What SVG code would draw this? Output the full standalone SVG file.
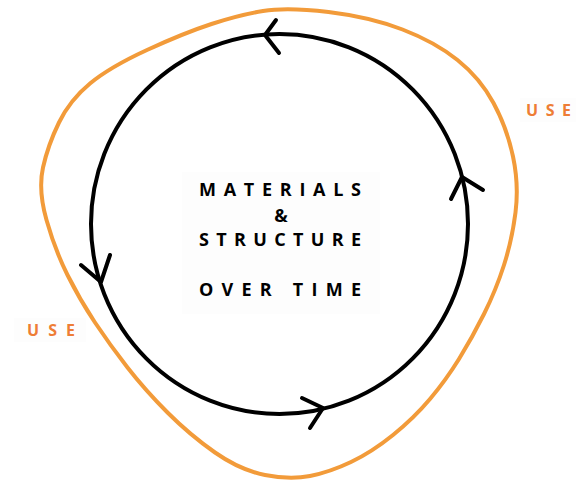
<svg xmlns="http://www.w3.org/2000/svg" width="576" height="481" viewBox="0 0 576 481">
  <style>
    .use-ring { fill: none; stroke: #F29B3A; stroke-width: 4; stroke-linejoin: round; }
    .cycle { fill: none; stroke: #000; stroke-width: 4; }
    .head { fill: none; stroke: #000; stroke-width: 4; stroke-linecap: round; stroke-linejoin: round; }
    .core { font-family: "Open Sans", "Liberation Sans", sans-serif; font-weight: 700; font-size: 18px; fill: #000; }
    .use { font-family: "Open Sans", "Liberation Sans", sans-serif; font-weight: 700; font-size: 16px; fill: #EE7D35; }
    .pad { fill: #FDFDFD; }
  </style>
  <rect width="576" height="481" fill="#fff"/>

  <!-- outer "use" boundary -->
  <g id="use-ring">
    <path class="use-ring" d="M 263,11 Q 287,7 328.5,12 Q 370,17 402.5,29.5 Q 435,42 457.5,60 Q 480,78 493.5,103 Q 507,128 513,156.5 Q 519,185 515.5,212.5 Q 512,240 504,265 Q 496,290 484,314 Q 472,338 459,359 Q 446,380 430,399 Q 414,418 393,435 Q 372,452 351,462 Q 330,472 310,476 Q 290,480 265,475 Q 240,470 215,452.5 Q 190,435 167.5,412.5 Q 145,390 127.5,367.5 Q 110,345 95,322.5 Q 80,300 67.5,275 Q 55,250 46.5,220 Q 38,190 43,167.5 Q 48,145 59,122.5 Q 70,100 90,83.5 Q 110,67 147,50 Q 184,33 211.5,24 Q 239,15 263,11 Z"/>
  </g>

  <!-- labels for the outer ring -->
  <g id="use-right">
    <rect class="pad" x="520" y="98" width="56" height="24"/>
    <text class="use" x="526" y="116" textLength="45" lengthAdjust="spacing">USE</text>
  </g>
  <g id="use-left">
    <rect class="pad" x="14" y="318" width="72" height="24"/>
    <text class="use" x="27" y="336" textLength="48" lengthAdjust="spacing">USE</text>
  </g>

  <!-- central label -->
  <g id="core">
    <rect class="pad" x="182" y="172" width="198" height="142"/>
    <text class="core" x="199" y="196" textLength="162" lengthAdjust="spacing">MATERIALS</text>
    <text class="core" x="281" y="222" text-anchor="middle">&amp;</text>
    <text class="core" x="199" y="246" textLength="162" lengthAdjust="spacing">STRUCTURE</text>
    <text class="core" x="199" y="296" textLength="162" lengthAdjust="spacing">OVER  TIME</text>
  </g>

  <!-- cycle loop with direction marks -->
  <g id="connectors">
    <ellipse class="cycle" cx="279.5" cy="224" rx="188.5" ry="190"/>
    <polyline class="head" points="276,20 265,35 279,53"/>
    <polyline class="head" points="451,199 462,177 483,190"/>
    <polyline class="head" points="81,265 101,282 110,255"/>
    <polyline class="head" points="302,398 323,408 310,428"/>
  </g>
</svg>
